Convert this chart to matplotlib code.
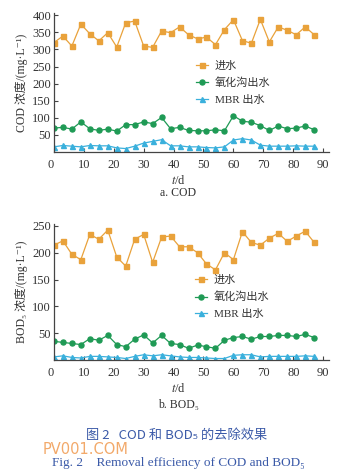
import matplotlib
matplotlib.use('Agg')
import matplotlib.pyplot as plt

# sampling days (every 3 d)
days = list(range(0, 90, 3))

# COD, mg/L
cod_in = [320, 339, 310, 374, 346, 325, 349, 307, 378, 383, 310, 306, 354, 349, 366,
          343, 331, 336, 314, 358, 387, 326, 318, 388, 322, 366, 356, 343, 366, 343]
cod_ox = [70, 72, 67, 88, 68, 63, 67, 61, 80, 80, 88, 83, 101, 68, 72,
          63, 62, 62, 65, 62, 106, 90, 87, 77, 63, 76, 68, 70, 76, 65]
cod_mbr = [15, 19, 17, 15, 19, 18, 18, 12, 10, 17, 26, 31, 36, 18, 18,
           15, 15, 13, 12, 15, 35, 39, 35, 20, 17, 17, 17, 18, 17, 17]

# BOD5, mg/L
bod_in = [214, 222, 197, 187, 234, 225, 242, 192, 175, 225, 234, 182, 229, 231, 211,
          211, 200, 179, 168, 200, 187, 239, 219, 214, 227, 236, 221, 231, 240, 219]
bod_ox = [35, 33, 31, 29, 40, 37, 46, 29, 25, 39, 47, 32, 46, 31, 29,
          22, 28, 25, 22, 37, 42, 44, 39, 44, 44, 46, 46, 44, 48, 42]
bod_mbr = [6, 8, 5, 4, 7, 7, 6, 5, 3, 7, 10, 8, 10, 8, 6,
           5, 5, 4, 3, 3, 9, 10, 10, 6, 7, 7, 7, 7, 8, 7]

series_names = ['进水', '氧化沟出水', 'MBR 出水']
x_ticks = [0, 10, 20, 30, 40, 50, 60, 70, 80, 90]

FONT = ['Liberation Serif', 'Noto Sans CJK SC', 'DejaVu Serif']
plt.rcParams['font.family'] = FONT
plt.rcParams['mathtext.fontset'] = 'stix'

c_in = '#e9a23b'
c_ox = '#1f9a55'
c_mbr = '#3ab0dc'
c_txt = '#333333'
c_cap = '#3b5aa8'

fig = plt.figure(figsize=(3.57, 4.72), dpi=100)
ax1 = fig.add_axes([0.151, 0.678, 0.771, 0.294])
ax2 = fig.add_axes([0.151, 0.237, 0.771, 0.288])


def draw(ax, y_in, y_ox, y_mbr, ymax, yticks, leg_loc):
    ax.plot(days, y_in, '-s', color=c_in, lw=0.9, ms=3.6, label=series_names[0])
    ax.plot(days, y_ox, '-o', color=c_ox, lw=0.9, ms=3.6, label=series_names[1])
    ax.plot(days, y_mbr, '-^', color=c_mbr, lw=0.9, ms=3.6, label=series_names[2])
    ax.set_xlim(0, 92)
    ax.set_ylim(0, ymax)
    ax.set_xticks(x_ticks)
    ax.set_yticks(yticks)
    for s in ['top', 'right']:
        ax.spines[s].set_visible(False)
    for s in ['left', 'bottom']:
        ax.spines[s].set_color('#444444')
        ax.spines[s].set_linewidth(0.9)
    ax.tick_params(direction='in', length=3, width=0.8, colors='#444444',
                   labelcolor=c_txt, labelsize=9)
    ax.tick_params(axis='y', pad=2)
    ax.tick_params(axis='x', pad=5)
    ax.get_xticklabels()[0].set_horizontalalignment('right')
    ax.legend(loc='upper left', bbox_to_anchor=leg_loc, frameon=False, fontsize=8,
              handlelength=1.1, handletextpad=0.6, labelspacing=0.6, labelcolor=c_txt)


draw(ax1, cod_in, cod_ox, cod_mbr, 406, [50, 100, 150, 200, 250, 300, 350, 400], (0.48, 0.73))
draw(ax2, bod_in, bod_ox, bod_mbr, 253, [50, 100, 150, 200, 250], (0.475, 0.70))

ax1.set_ylabel('COD 浓度/(mg·L⁻¹)', fontsize=8.5, color=c_txt, labelpad=3)
ax2.set_ylabel('BOD₅ 浓度/(mg·L⁻¹)', fontsize=8.5, color=c_txt, labelpad=3)

fig.text(0.5, 1 - 180 / 472, '$t$/d', ha='center', va='center', fontsize=9, color=c_txt)
fig.text(0.5, 1 - 193 / 472, 'a. COD', ha='center', va='center', fontsize=8.5, color=c_txt)
fig.text(0.5, 1 - 388 / 472, '$t$/d', ha='center', va='center', fontsize=9, color=c_txt)
fig.text(0.5, 1 - 405 / 472, 'b. BOD₅', ha='center', va='center', fontsize=8.5, color=c_txt)

fig.text(0.495, 1 - 435 / 472, '图 2   COD 和 BOD₅ 的去除效果', ha='center', va='center',
         fontsize=9.5, color=c_cap, family=['Noto Sans CJK SC', 'DejaVu Sans'])
fig.text(0.24, 1 - 449 / 472, 'PV001.COM', ha='center', va='center',
         fontsize=10.5, color='#f09a50', alpha=0.85, family='DejaVu Sans')
fig.text(0.5, 1 - 463 / 472, 'Fig. 2    Removal efficiency of COD and BOD₅', ha='center',
         va='center', fontsize=9.5, color=c_cap)

fig.savefig('out.png', dpi=100)
